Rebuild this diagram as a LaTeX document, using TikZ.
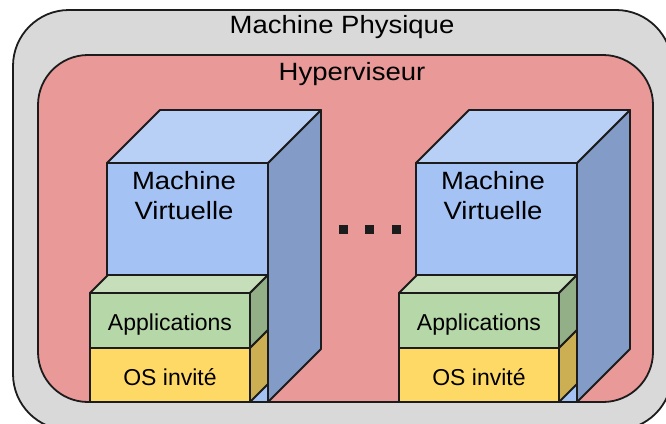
\documentclass[tikz,border=0pt]{standalone}
\usepackage{fontspec}
\setmainfont{Liberation Sans}
\definecolor{physgray}{HTML}{D9D9D9}
\definecolor{hyperpink}{HTML}{EA9999}
\definecolor{vmfront}{HTML}{A4C2F4}
\definecolor{vmtop}{HTML}{B8CFF6}
\definecolor{vmside}{HTML}{839CC7}
\definecolor{appfront}{HTML}{B6D7A8}
\definecolor{apptop}{HTML}{C6DFBA}
\definecolor{appside}{HTML}{93AF87}
\definecolor{osfront}{HTML}{FFD966}
\definecolor{osside}{HTML}{CDAF53}
\definecolor{edge}{HTML}{1C1C1C}
\newcommand{\wide}[1]{\scalebox{1.1}[1]{#1}}

\begin{document}
\begin{tikzpicture}[x=1pt,y=-1pt]
        % styles %
        \tikzstyle{box} = [draw=edge, line width=1.8pt, line join=round];
        \tikzstyle{bigtext} = [inner sep=0pt, align=center, font=\fontsize{25}{30}\selectfont];
        \tikzstyle{smalltext} = [inner sep=0pt, anchor=base, font=\fontsize{23}{26}\selectfont];

        \useasboundingbox (0,0) rectangle (666,423);
        \clip (0,0) rectangle (666,423);

        % machine physique, hyperviseur %
        \draw [box, fill=physgray, rounded corners=56pt] (13,10) rectangle (672,430);
        \draw [box, fill=hyperpink, rounded corners=50pt] (38,55) rectangle (653,402);
        \node [bigtext, anchor=base] (phys) at (342,33) {\wide{Machine Physique}};
        \node [bigtext, anchor=base] (hyper) at (352,80) {\wide{Hyperviseur}};

        % machines virtuelles %
        \foreach \vm/\dx in {1/0, 2/309} {
          \begin{scope}[xshift=\dx pt]
            \draw [box, fill=vmside] (268,163) -- (321,110) -- (321,349) -- (268,402) -- cycle;
            \draw [box, fill=vmtop] (107,163) -- (160,110) -- (321,110) -- (268,163) -- cycle;
            \draw [box, fill=vmfront] (107,163) rectangle (268,402);
            \draw [box, fill=apptop] (90,293) -- (108,275) -- (268,275) -- (250,293) -- cycle;
            \draw [box, fill=appside] (250,293) -- (268,275) -- (268,330) -- (250,348) -- cycle;
            \draw [box, fill=appfront] (90,293) rectangle (250,348);
            \draw [box, fill=osside] (250,348) -- (268,330) -- (268,384) -- (250,402) -- cycle;
            \draw [box, fill=osfront] (90,348) rectangle (250,402);
            \node [bigtext] (vm\vm) at (184,196) {\wide{Machine}\\\wide{Virtuelle}};
            \node [smalltext] (app\vm) at (170,330) {Applications};
            \node [smalltext] (os\vm) at (170,385) {OS invité};
          \end{scope}
        }

        % points de suspension %
        \foreach \i in {0,1,2}
          \fill [edge] ({338.5+26.5*\i},224.5) rectangle +(9,9);
\end{tikzpicture}
\end{document}
